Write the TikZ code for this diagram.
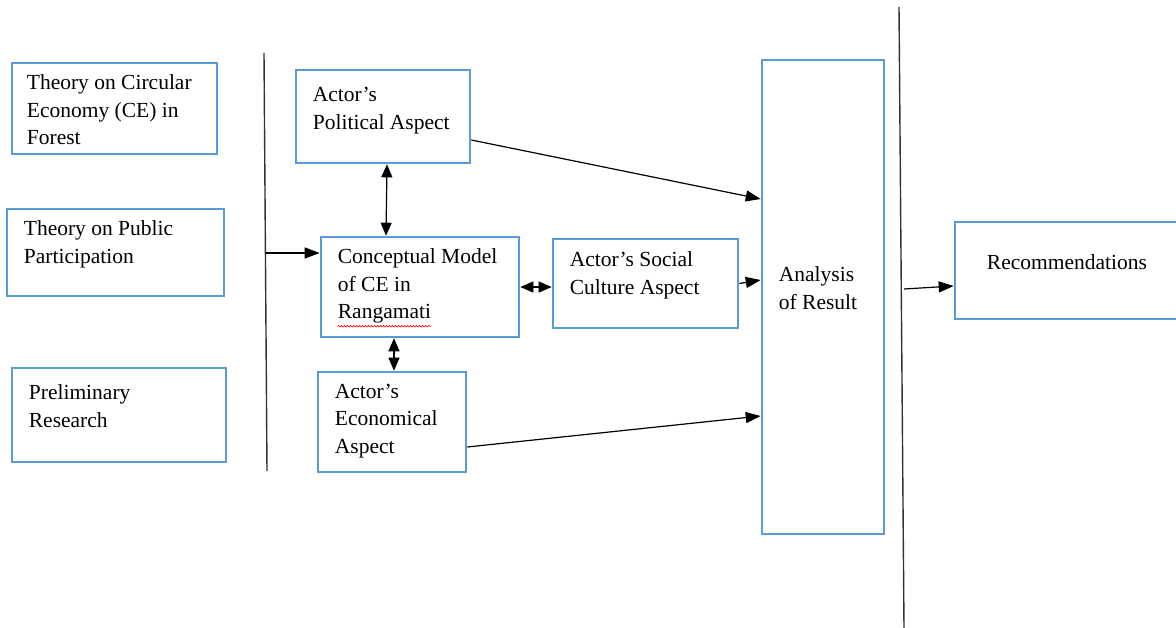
\documentclass[tikz,border=0pt]{standalone}
\usepackage{fontspec}
\setmainfont{Liberation Serif}
\usepackage{xcolor}
\usetikzlibrary{arrows.meta,calc,decorations.pathmorphing}

\definecolor{boxblue}{HTML}{5B9BD5}

\begin{document}
\begin{tikzpicture}[
  x=1pt, y=-1pt,
  box/.style={draw=boxblue, line width=2.6pt, rectangle, inner sep=0pt},
  tag/.style={anchor=west, align=left, inner sep=0pt, font=\fontsize{21.5}{27.5}\selectfont},
  arrow/.style={-{Triangle[length=15pt, width=11pt]}, line width=1.2pt},
  twoway/.style={{Triangle[length=13pt, width=11pt]}-{Triangle[length=13pt, width=11pt]}, line width=1.2pt},
  rule/.style={draw=black!80, line width=1.4pt}
]
\useasboundingbox (0,0) rectangle (1176,628);

% inputs
\node[box, minimum width=205, minimum height=91,
  label={[tag, xshift=16, yshift=-1.5]west:{Theory on Circular\\Economy (CE) in\\Forest}}] (ce) at (114.5,108.5) {};
\node[box, minimum width=217, minimum height=87,
  label={[tag, xshift=18, yshift=8]west:{Theory on Public\\Participation}}] (pp) at (115.5,252.5) {};
\node[box, minimum width=214, minimum height=94,
  label={[tag, xshift=18, yshift=9]west:{Preliminary\\Research}}] (pr) at (119,415) {};

% model
\node[box, minimum width=174, minimum height=93,
  label={[tag, xshift=18, yshift=6]west:{Actor’s\\Political Aspect}}] (pol) at (383,116.5) {};
\node[box, minimum width=198, minimum height=100,
  label={[tag, xshift=18, yshift=1]west:{Conceptual Model\\of CE in\\Rangamati}}] (cm) at (420,287) {};
\node[box, minimum width=185, minimum height=89,
  label={[tag, xshift=18, yshift=8]west:{Actor’s Social\\Culture Aspect}}] (soc) at (645.5,283.5) {};
\node[box, minimum width=148, minimum height=100,
  label={[tag, xshift=18, yshift=1]west:{Actor’s\\Economical\\Aspect}}] (eco) at (392,422) {};

% output
\node[box, minimum width=122, minimum height=474,
  label={[tag, xshift=18, yshift=9]west:{Analysis\\of Result}}] (ana) at (823,297) {};
\node[box, minimum width=222, minimum height=97,
  label={[tag, xshift=33, yshift=8]west:{Recommendations}}] (rec) at (1066,270.5) {};

% separators
\coordinate (sepA top) at (264,53);
\coordinate (sepA bot) at (267,471);
\coordinate (sepB top) at (899,7);
\coordinate (sepB bot) at (904,628);
\draw[rule] (sepA top) -- (sepA bot);
\draw[rule] (sepB top) -- (sepB bot);

\coordinate (in) at (266,253);
\coordinate (out) at (904,289);

\draw[arrow] (in) -- (in -| cm.west);
\draw[arrow] ($(pol.east)+(0,23.5)$) -- ($(ana.west)+(0,-98)$);
\draw[twoway] ($(pol.south)+(4,0)$) -- ($(cm.north)+(-34,0)$);
\draw[twoway] (cm.east) -- (cm.east -| soc.west);
\draw[arrow] (soc.east) -- ($(ana.west)+(0,-17)$);
\draw[twoway] ($(cm.south)+(-26,0)$) -- ($(eco.north)+(2,0)$);
\draw[arrow] ($(eco.east)+(0,25)$) -- ($(ana.west)+(0,119)$);
\draw[arrow] (out) -- ($(rec.west)+(0,15.5)$);

% spelling mark
\draw[red, line width=0.6pt, decorate, decoration={snake, amplitude=0.8pt, segment length=3pt}]
  ($(cm.south west)+(18,-12)$) -- ++(93,0);
\end{tikzpicture}
\end{document}
